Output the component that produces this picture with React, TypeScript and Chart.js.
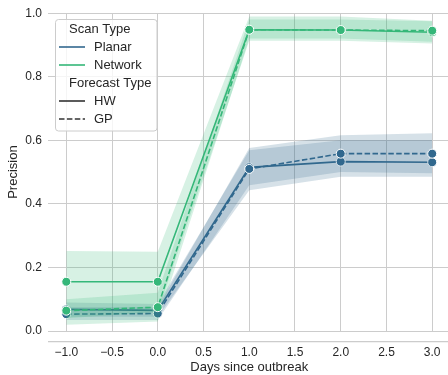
import React, { useEffect, useRef } from "react";
import { Chart, registerables } from "chart.js";

Chart.register(...registerables);

const days = [-1, 0, 1, 2, 3];

const planarHW = [0.068, 0.065, 0.515, 0.533, 0.531];
const planarHWLow = [0.045, 0.045, 0.443, 0.485, 0.485];
const planarHWHigh = [0.09, 0.085, 0.569, 0.6, 0.6];

const planarGP = [0.053, 0.055, 0.51, 0.558, 0.558];
const planarGPLow = [0.035, 0.035, 0.459, 0.5, 0.496];
const planarGPHigh = [0.075, 0.075, 0.576, 0.616, 0.622];

const networkHW = [0.155, 0.155, 0.948, 0.947, 0.94];
const networkHWLow = [0.04, 0.06, 0.913, 0.913, 0.905];
const networkHWHigh = [0.252, 0.249, 0.99, 0.99, 0.976];

const networkGP = [0.064, 0.075, 0.948, 0.947, 0.945];
const networkGPLow = [0.02, 0.03, 0.92, 0.92, 0.91];
const networkGPHigh = [0.1, 0.12, 0.98, 0.98, 0.975];

const xTicks = [-1, -0.5, 0, 0.5, 1, 1.5, 2, 2.5, 3];
const yTicks = [0, 0.2, 0.4, 0.6, 0.8, 1.0];

const scanTypes = ["Planar", "Network"];
const forecastTypes = ["HW", "GP"];

const PLANAR = "#31688e";
const NETWORK = "#35b779";
const PLANAR_FILL = "rgba(49,104,142,0.2)";
const NETWORK_FILL = "rgba(53,183,121,0.2)";
const TEXT = "#262626";
const GRID = "#cccccc";
const FONT = "'Liberation Sans', Arial, sans-serif";

const pts = (ys: number[]) => days.map((d, i) => ({ x: d, y: ys[i] }));

function seriesSets(
  vals: number[],
  low: number[],
  high: number[],
  color: string,
  fill: string,
  dashed: boolean,
  baseIndex: number
) {
  return [
    {
      data: pts(low),
      borderWidth: 0,
      pointRadius: 0,
      borderColor: "transparent",
      backgroundColor: "transparent",
      fill: false,
    },
    {
      data: pts(high),
      borderWidth: 0,
      pointRadius: 0,
      borderColor: "transparent",
      backgroundColor: fill,
      fill: baseIndex,
    },
    {
      data: pts(vals),
      borderColor: color,
      borderWidth: 1.6,
      borderDash: dashed ? [5.5, 2.4] : [],
      pointRadius: 4.5,
      pointBackgroundColor: color,
      pointBorderColor: "#ffffff",
      pointBorderWidth: 1,
      fill: false,
    },
  ];
}

const extras = {
  id: "extras",
  afterDraw(chart: any) {
    const { ctx, chartArea } = chart;
    ctx.save();
    // offset bottom spine
    ctx.strokeStyle = GRID;
    ctx.lineWidth = 1.25;
    ctx.beginPath();
    ctx.moveTo(chartArea.left, chartArea.bottom + 10.5);
    ctx.lineTo(chartArea.right, chartArea.bottom + 10.5);
    ctx.stroke();

    // legend
    const bx = 55.5, by = 19.5, bw = 101.5, bh = 111.5, r = 3;
    ctx.beginPath();
    ctx.moveTo(bx + r, by);
    ctx.lineTo(bx + bw - r, by);
    ctx.quadraticCurveTo(bx + bw, by, bx + bw, by + r);
    ctx.lineTo(bx + bw, by + bh - r);
    ctx.quadraticCurveTo(bx + bw, by + bh, bx + bw - r, by + bh);
    ctx.lineTo(bx + r, by + bh);
    ctx.quadraticCurveTo(bx, by + bh, bx, by + bh - r);
    ctx.lineTo(bx, by + r);
    ctx.quadraticCurveTo(bx, by, bx + r, by);
    ctx.closePath();
    ctx.fillStyle = "rgba(255,255,255,0.8)";
    ctx.fill();
    ctx.strokeStyle = GRID;
    ctx.lineWidth = 1;
    ctx.stroke();

    ctx.font = `13px ${FONT}`;
    ctx.fillStyle = TEXT;
    ctx.textBaseline = "middle";
    ctx.textAlign = "left";
    const rows: { label: string; title?: boolean; color?: string; dash?: boolean; y: number }[] = [
      { label: "Scan Type", title: true, y: 29 },
      { label: scanTypes[0], color: PLANAR, y: 47 },
      { label: scanTypes[1], color: NETWORK, y: 65 },
      { label: "Forecast Type", title: true, y: 83 },
      { label: forecastTypes[0], color: "#333333", y: 101 },
      { label: forecastTypes[1], color: "#333333", dash: true, y: 119 },
    ];
    rows.forEach((row) => {
      if (row.title) {
        ctx.fillStyle = TEXT;
        ctx.fillText(row.label, 69, row.y);
      } else {
        ctx.strokeStyle = row.color;
        ctx.lineWidth = 1.6;
        ctx.setLineDash(row.dash ? [5.5, 2.4] : []);
        ctx.beginPath();
        ctx.moveTo(59, row.y);
        ctx.lineTo(85, row.y);
        ctx.stroke();
        ctx.setLineDash([]);
        ctx.fillStyle = TEXT;
        ctx.fillText(row.label, 94, row.y);
      }
    });
    ctx.restore();
  },
};

export default function App() {
  const ref = useRef<HTMLCanvasElement | null>(null);

  useEffect(() => {
    if (!ref.current) return;
    const datasets: any[] = [
      ...seriesSets(planarHW, planarHWLow, planarHWHigh, PLANAR, PLANAR_FILL, false, 0),
      ...seriesSets(planarGP, planarGPLow, planarGPHigh, PLANAR, PLANAR_FILL, true, 3),
      ...seriesSets(networkHW, networkHWLow, networkHWHigh, NETWORK, NETWORK_FILL, false, 6),
      ...seriesSets(networkGP, networkGPLow, networkGPHigh, NETWORK, NETWORK_FILL, true, 9),
    ];
    const n = datasets.length;
    datasets.forEach((d, i) => {
      d.order = n - i;
    });

    const chart = new Chart(ref.current, {
      type: "line",
      data: { datasets },
      options: {
        responsive: false,
        animation: false,
        devicePixelRatio: 1,
        layout: { padding: { top: 13, left: 0, right: 0, bottom: 0 } },
        plugins: {
          legend: { display: false },
          tooltip: { enabled: false },
        },
        elements: { line: { tension: 0 } },
        scales: {
          x: {
            type: "linear",
            min: -1.2,
            max: 3.2,
            afterBuildTicks: (s: any) => {
              s.ticks = xTicks.map((v) => ({ value: v }));
            },
            afterFit: (s: any) => {
              s.height = 44;
            },
            border: { display: false },
            grid: { color: GRID, lineWidth: 1, drawTicks: false },
            ticks: {
              padding: 14,
              color: TEXT,
              font: { family: FONT, size: 12 },
              maxRotation: 0,
              autoSkip: false,
              callback: (v: any) => {
                const num = Number(v);
                return num < 0 ? "\u2212" + Math.abs(num).toFixed(1) : num.toFixed(1);
              },
            },
            title: {
              display: true,
              text: "Days since outbreak",
              color: TEXT,
              font: { family: FONT, size: 13 },
              padding: { top: 0, bottom: 0 },
            },
          },
          y: {
            type: "linear",
            min: 0,
            max: 1,
            afterBuildTicks: (s: any) => {
              s.ticks = yTicks.map((v) => ({ value: v }));
            },
            afterFit: (s: any) => {
              s.width = 48;
            },
            border: { display: false },
            grid: { color: GRID, lineWidth: 1, drawTicks: false },
            ticks: {
              padding: 6,
              color: TEXT,
              font: { family: FONT, size: 12 },
              callback: (v: any) => Number(v).toFixed(1),
            },
            title: {
              display: true,
              text: "Precision",
              color: TEXT,
              font: { family: FONT, size: 13 },
              padding: { top: 6, bottom: 0 },
            },
          },
        },
      },
      plugins: [extras],
    });
    return () => chart.destroy();
  }, []);

  return (
    <div
      style={{
        position: "fixed",
        left: 0,
        top: 0,
        width: 448,
        height: 375,
        overflow: "hidden",
        background: "#ffffff",
      }}
    >
      <canvas ref={ref} width={456} height={375} style={{ display: "block", width: 456, height: 375 }} />
    </div>
  );
}
